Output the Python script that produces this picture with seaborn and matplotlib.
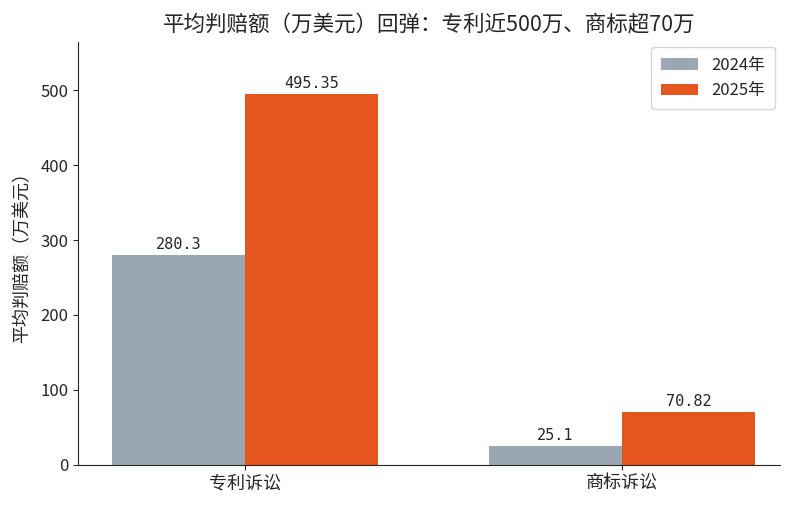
import seaborn as sns
import pandas as pd
import matplotlib.pyplot as plt

categories = ["专利诉讼", "商标诉讼"]
years = ["2024年", "2025年"]
values_2024 = [280.3, 25.1]
values_2025 = [495.35, 70.82]
labels_2024 = ["280.3", "25.1"]
labels_2025 = ["495.35", "70.82"]

sns.set_style("ticks")
plt.rcParams['font.family'] = ['Noto Sans CJK SC', 'DejaVu Sans']

df = pd.DataFrame({
    "category": categories * 2,
    "year": [years[0]] * 2 + [years[1]] * 2,
    "value": values_2024 + values_2025,
})

fig = plt.figure(figsize=(8, 5.08), dpi=100)
ax = fig.add_axes([0.0975, 0.085, 0.8775, 0.832])
sns.barplot(data=df, x="category", y="value", hue="year", width=0.705,
            palette=["#9aa6b2", "#e5561e"], saturation=1, linewidth=0, ax=ax)

# bar labels in a monospace face like the reference
for cont, labs in zip(ax.containers, [labels_2024, labels_2025]):
    ax.bar_label(cont, labels=labs, padding=2, fontsize=11,
                 family=['DejaVu Sans Mono'])

ax.set_xlim(-0.443, 1.419)
ax.set_ylim(0, 564)
ax.set_xlabel("")
ax.set_ylabel("平均判赔额（万美元）", fontsize=13, labelpad=6)
ax.set_title("平均判赔额（万美元）回弹：专利近500万、商标超70万", fontsize=15.5, pad=8)
ax.tick_params(axis="x", labelsize=13)
ax.tick_params(axis="y", labelsize=12)
sns.despine(ax=ax)
ax.legend(loc="upper right", fontsize=12, handlelength=2.2, borderpad=0.6,
          borderaxespad=0.3)

fig.savefig("out.png", dpi=100)
